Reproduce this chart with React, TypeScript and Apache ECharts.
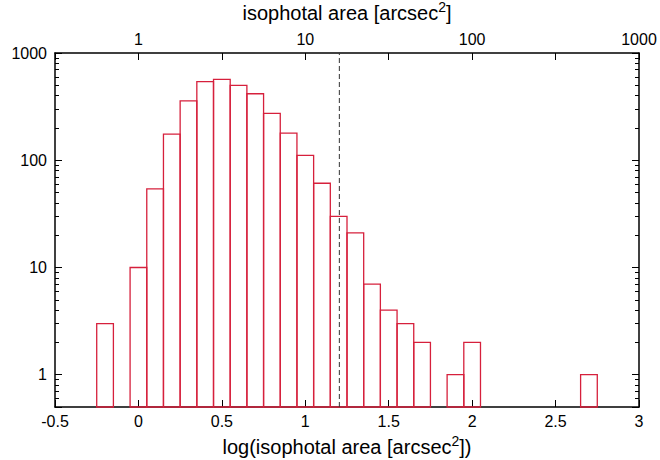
import React, { useEffect, useRef } from 'react';
import * as echarts from 'echarts';

// Histogram bins (log10 of isophotal area), width 0.1
const binCenters = [
  -0.2, -0.1, 0.0, 0.1, 0.2, 0.3, 0.4, 0.5, 0.6, 0.7,
  0.8, 0.9, 1.0, 1.1, 1.2, 1.3, 1.4, 1.5, 1.6, 1.7,
  1.8, 1.9, 2.0, 2.1, 2.2, 2.3, 2.4, 2.5, 2.6, 2.7,
];
const counts = [
  3, 0, 10, 54, 175, 358, 540, 568, 499, 417,
  273, 179, 111, 61, 30, 21, 7, 4, 3, 2,
  0, 1, 2, 0, 0, 0, 0, 0, 0, 1,
];
const BIN_WIDTH = 0.1;
const cutoffArea = 16; // arcsec^2, dashed line
const xTicks = { min: -0.5, max: 3, interval: 0.5 };
const yRange = { min: 0.5, max: 1000 };

const FONT = '"Liberation Sans", Arial, Helvetica, sans-serif';
const BAR_COLOR = '#d6203c';

const isPow10 = (v: number) => {
  const l = Math.log10(v);
  return Math.abs(l - Math.round(l)) < 1e-6;
};
const isInt = (v: number) => Math.abs(v - Math.round(v)) < 1e-9;

export default function App() {
  const ref = useRef<HTMLDivElement>(null);
  useEffect(() => {
    if (!ref.current) return;
    const chart = echarts.init(ref.current, undefined, { renderer: 'svg' });
    const barData = binCenters
      .map((c, i) => [c, counts[i]])
      .filter((d) => d[1] > 0);
    const cutoffX = Math.log10(cutoffArea);

    const axisLine = { show: true, onZero: false, lineStyle: { color: '#000', width: 1.5 } };
    const axisTick = { show: true, inside: true, length: 7, lineStyle: { color: '#000', width: 1 } };
    const nameStyle = {
      fontSize: 20,
      color: '#000',
      fontFamily: FONT,
      lineHeight: 26,
      rich: {
        sup: { fontSize: 14, color: '#000', fontFamily: FONT, verticalAlign: 'top', lineHeight: 16 },
      },
    };

    chart.setOption({
      animation: false,
      backgroundColor: '#fff',
      grid: { left: 55, right: 21, top: 53, bottom: 53, containLabel: false, outerBoundsMode: 'none' },
      xAxis: [
        {
          type: 'value',
          position: 'bottom',
          min: xTicks.min,
          max: xTicks.max,
          interval: xTicks.interval,
          axisLine,
          axisTick,
          splitLine: { show: false },
          axisLabel: { fontSize: 16, color: '#000', fontFamily: FONT, margin: 6 },
          name: 'log(isophotal area [arcsec{sup|2}])',
          nameLocation: 'middle',
          nameGap: 21,
          nameTextStyle: nameStyle,
        },
        {
          type: 'value',
          position: 'top',
          min: xTicks.min,
          max: xTicks.max,
          interval: xTicks.interval,
          axisLine,
          axisTick,
          splitLine: { show: false },
          axisLabel: {
            fontSize: 16,
            color: '#000',
            fontFamily: FONT,
            margin: 6,
            formatter: (v: number) => (isInt(v) ? String(Math.round(Math.pow(10, v))) : ''),
          },
          name: 'isophotal area [arcsec{sup|2}]',
          nameLocation: 'middle',
          nameGap: 23,
          nameTextStyle: nameStyle,
        },
      ],
      yAxis: [
        {
          type: 'log',
          logBase: 10,
          min: yRange.min,
          max: yRange.max,
          position: 'left',
          axisLine,
          axisTick,
          minorTick: { show: true, splitNumber: 9, length: 4, lineStyle: { color: '#000', width: 1 } },
          splitLine: { show: false },
          minorSplitLine: { show: false },
          axisLabel: {
            fontSize: 16,
            color: '#000',
            fontFamily: FONT,
            margin: 8,
            formatter: (v: number) => (isPow10(v) ? String(Math.round(v)) : ''),
          },
        },
        {
          type: 'log',
          logBase: 10,
          min: yRange.min,
          max: yRange.max,
          position: 'right',
          axisLine,
          axisTick,
          minorTick: { show: true, splitNumber: 9, length: 4, lineStyle: { color: '#000', width: 1 } },
          splitLine: { show: false },
          axisLabel: { show: false },
        },
      ],
      series: [
        {
          type: 'custom',
          xAxisIndex: 0,
          yAxisIndex: 0,
          data: barData,
          renderItem: (params: any, api: any) => {
            const x = api.value(0);
            const v = api.value(1);
            const p0 = api.coord([x - BIN_WIDTH / 2, v]);
            const p1 = api.coord([x + BIN_WIDTH / 2, yRange.min]);
            return {
              type: 'rect',
              shape: { x: p0[0], y: p0[1], width: p1[0] - p0[0], height: p1[1] - p0[1] },
              style: { fill: 'none', stroke: BAR_COLOR, lineWidth: 1.3 },
            };
          },
        },
        {
          type: 'line',
          xAxisIndex: 0,
          yAxisIndex: 0,
          data: [
            [cutoffX, yRange.min],
            [cutoffX, yRange.max],
          ],
          symbol: 'none',
          silent: true,
          lineStyle: { color: '#333', width: 1, type: [5, 3] },
        },
      ],
    });
    return () => chart.dispose();
  }, []);
  return (
    <div
      ref={ref}
      style={{ position: 'absolute', left: 0, top: 0, width: 660, height: 460 }}
    />
  );
}
